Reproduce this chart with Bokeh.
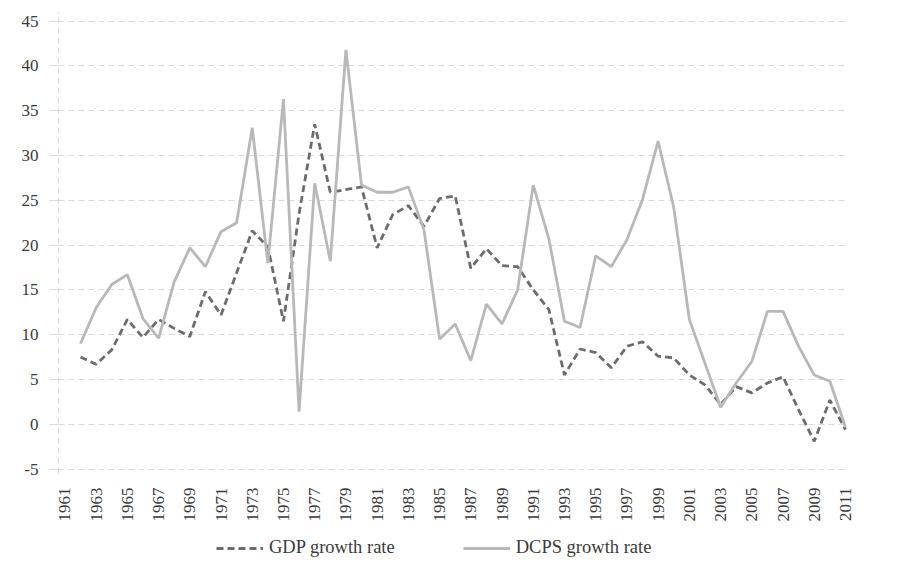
import math
from bokeh.plotting import figure
from bokeh.layouts import column
from bokeh.models import Range1d, FixedTicker, Legend, LegendItem, ColumnDataSource
from bokeh.embed import file_html
from bokeh.resources import INLINE

years = list(range(1962, 2012))
gdp_growth = [7.5, 6.7, 8.3, 11.7, 9.7, 11.7, 10.7, 9.8, 14.8, 12.2,
              16.9, 21.6, 19.8, 11.5, 23.5, 33.5, 25.9, 26.2, 26.5, 19.7,
              23.4, 24.4, 22.1, 25.2, 25.5, 17.4, 19.6, 17.7, 17.6, 15.0,
              12.8, 5.5, 8.4, 8.0, 6.3, 8.7, 9.2, 7.6, 7.4, 5.5,
              4.4, 2.2, 4.2, 3.5, 4.6, 5.3, 1.6, -1.9, 2.7, -0.6]
dcps_growth = [9.0, 13.0, 15.6, 16.7, 11.8, 9.6, 15.9, 19.7, 17.6, 21.5,
               22.5, 33.1, 18.0, 36.3, 1.4, 26.9, 18.2, 41.8, 26.7, 25.9,
               25.9, 26.5, 21.7, 9.5, 11.2, 7.1, 13.4, 11.2, 15.0, 26.7,
               20.7, 11.5, 10.8, 18.8, 17.6, 20.6, 25.1, 31.6, 24.2, 11.7,
               6.8, 1.9, 4.6, 7.0, 12.6, 12.6, 8.7, 5.5, 4.8, -0.3]
x_tick_years = list(range(1961, 2012, 2))
y_ticks = list(range(-5, 50, 5))
series_names = ["GDP growth rate", "DCPS growth rate"]

FONT = "Times"
TEXT = "#3a3a3a"
GRID = "#d9d9d9"
GDP_STYLE = dict(line_color="#6c6c6c", line_width=2.8, line_dash="7 4")
DCPS_STYLE = dict(line_color="#b8b8b8", line_width=2.8)

src = ColumnDataSource(dict(year=years, gdp=gdp_growth, dcps=dcps_growth))

p = figure(width=892, height=528, output_backend="svg", toolbar_location=None,
           x_range=Range1d(1960.59, 2011.13), y_range=Range1d(-5.5, 45.97),
           min_border_left=58, min_border_right=45, min_border_top=12,
           min_border_bottom=55)
p.outline_line_color = None
p.background_fill_color = "white"

# grid
p.xgrid.grid_line_color = None
p.ygrid.ticker = FixedTicker(ticks=y_ticks)
p.ygrid.grid_line_color = GRID
p.ygrid.grid_line_dash = "6 4"
p.ygrid.grid_line_width = 1

# y axis
p.yaxis.ticker = FixedTicker(ticks=y_ticks)
p.yaxis.major_label_overrides = {t: str(t) for t in y_ticks}
p.yaxis.axis_line_color = GRID
p.yaxis.axis_line_dash = "6 4"
p.yaxis.major_tick_line_color = GRID
p.yaxis.major_tick_out = 9
p.yaxis.major_tick_in = 0
p.yaxis.minor_tick_line_color = None
p.yaxis.major_label_standoff = 11
p.yaxis.major_label_text_font = FONT
p.yaxis.major_label_text_font_size = "17px"
p.yaxis.major_label_text_color = TEXT

# x axis
p.xaxis.ticker = FixedTicker(ticks=x_tick_years)
p.xaxis.axis_line_color = None
p.xaxis.major_tick_line_color = None
p.xaxis.minor_tick_line_color = None
p.xaxis.major_tick_out = 0
p.xaxis.major_tick_in = 0
p.xaxis.major_label_standoff = 14
p.xaxis.major_label_orientation = math.pi / 2
p.xaxis.major_label_text_font = FONT
p.xaxis.major_label_text_font_size = "17px"
p.xaxis.major_label_text_color = TEXT

p.line("year", "gdp", source=src, **GDP_STYLE)
p.line("year", "dcps", source=src, **DCPS_STYLE)

# legend strip below the chart
q = figure(width=892, height=44, output_backend="svg", toolbar_location=None,
           x_axis_type=None, y_axis_type=None,
           min_border_left=0, min_border_right=0, min_border_top=0,
           min_border_bottom=0)
q.outline_line_color = None
q.grid.visible = False
lg_gdp = q.line("year", "gdp", source=src, visible=False, **GDP_STYLE)
lg_dcps = q.line("year", "dcps", source=src, visible=False, **DCPS_STYLE)

legend = Legend(items=[LegendItem(label=series_names[0], renderers=[lg_gdp]),
                       LegendItem(label=series_names[1], renderers=[lg_dcps])],
                orientation="horizontal", location=(158, 14),
                label_text_font=FONT, label_text_font_size="18.5px",
                label_text_color=TEXT, glyph_width=47, glyph_height=20,
                label_standoff=6, spacing=68, padding=0, margin=0,
                border_line_color=None, background_fill_alpha=0,
                inactive_fill_alpha=0)
q.add_layout(legend, "center")

layout = column(p, q, spacing=0)
open("out.html", "w").write(file_html(layout, INLINE))
